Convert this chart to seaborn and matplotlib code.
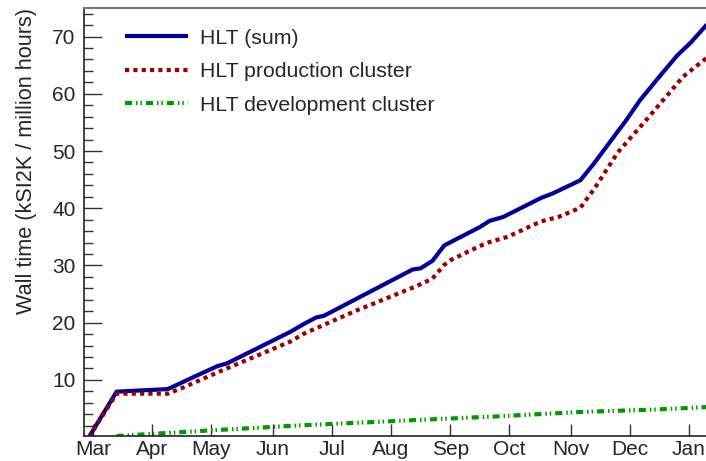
import pandas as pd
import matplotlib.pyplot as plt
import matplotlib.ticker as mticker
import seaborn as sns

# Data (x = days since start of March)
sum_days = [1, 15, 41, 54, 66, 71, 103, 110, 116, 120, 165, 169, 175, 181, 186,
            199, 204, 211, 230, 236, 250, 257, 268, 273, 280, 289, 299, 306, 314]
sum_vals = [0, 7.95, 8.4, 10.5, 12.4, 12.9, 18.4, 19.8, 20.9, 21.2, 29.3, 29.5, 30.8, 33.5, 34.4,
            36.7, 37.8, 38.5, 41.8, 42.6, 44.9, 47.9, 53.0, 55.3, 58.8, 62.6, 66.7, 69.0, 72.1]

prod_days = [1, 15, 41, 49, 66, 103, 110, 137, 167, 175, 181, 184, 199, 204, 213,
             230, 239, 250, 257, 269, 283, 302, 314]
prod_vals = [0, 7.6, 7.6, 8.7, 11.3, 16.7, 18.1, 22.2, 26.4, 27.7, 30.1, 30.9, 33.4, 34.1, 35.0,
             37.7, 38.5, 40.1, 43.4, 49.8, 55.3, 63.0, 66.3]

dev_days = [15, 61, 105, 161, 206, 250, 286, 314]
dev_vals = [0.2, 1.15, 2.0, 2.9, 3.6, 4.4, 4.8, 5.25]

month_ticks = [3, 33, 63, 94, 124, 154, 184, 214, 245, 275, 305]
month_labels = ["Mar", "Apr", "May", "Jun", "Jul", "Aug", "Sep", "Oct", "Nov", "Dec", "Jan"]

series = [
    ("HLT (sum)", sum_days, sum_vals, "#000099", None),
    ("HLT production cluster", prod_days, prod_vals, "#990000", (1, 1)),
    ("HLT development cluster", dev_days, dev_vals, "#009900", (1.7, 0.95, 0.36, 0.7, 0.36, 0.95)),
]

sns.set_style("ticks")
plt.rcParams["font.family"] = ["Liberation Sans", "DejaVu Sans"]
plt.rcParams["font.size"] = 15

fig = plt.figure(figsize=(7.06, 4.61), dpi=100)
ax = fig.add_axes([84 / 706, 25 / 461, 1 - 84 / 706, 428 / 461])

for name, xs, ys, color, dash in series:
    df = pd.DataFrame({"day": xs, "value": ys})
    sns.lineplot(data=df, x="day", y="value", color=color, linewidth=3, label=name, ax=ax)
    line = ax.lines[-1]
    if dash is not None:
        line.set_dashes(dash)
    line.set_dash_capstyle("butt")
    line.set_solid_capstyle("butt")

ax.set_xlim(-1.5, 313.6)
ax.set_ylim(0.2, 75)

ax.set_xticks(month_ticks)
ax.set_xticklabels(month_labels)
ax.yaxis.set_major_locator(mticker.MultipleLocator(10))
ax.yaxis.set_minor_locator(mticker.MultipleLocator(2))
ax.tick_params(axis="y", which="major", direction="in", length=13, width=1, color="#333333",
               labelsize=15, pad=6)
ax.tick_params(axis="y", which="minor", direction="in", length=6.5, width=1, color="#333333")
ax.tick_params(axis="x", which="major", direction="in", length=9, width=1, color="#333333",
               labelsize=15, pad=3)

ax.set_xlabel("")
ax.set_ylabel("Wall time (kSI2K / million hours)", fontsize=15.6, loc="top", labelpad=11)

for side in ["left", "bottom"]:
    ax.spines[side].set_color("#222222")
    ax.spines[side].set_linewidth(1.2)
ax.spines["top"].set_visible(True)
ax.spines["top"].set_color("#777777")
ax.spines["top"].set_linewidth(1.5)
ax.spines["right"].set_visible(False)

ax.legend(loc="upper left", bbox_to_anchor=(0.066, 0.952), frameon=False, fontsize=15.3,
          handlelength=2.95, handletextpad=0.6, labelspacing=0.69, borderpad=0, borderaxespad=0)

fig.savefig("out.png", dpi=100)
